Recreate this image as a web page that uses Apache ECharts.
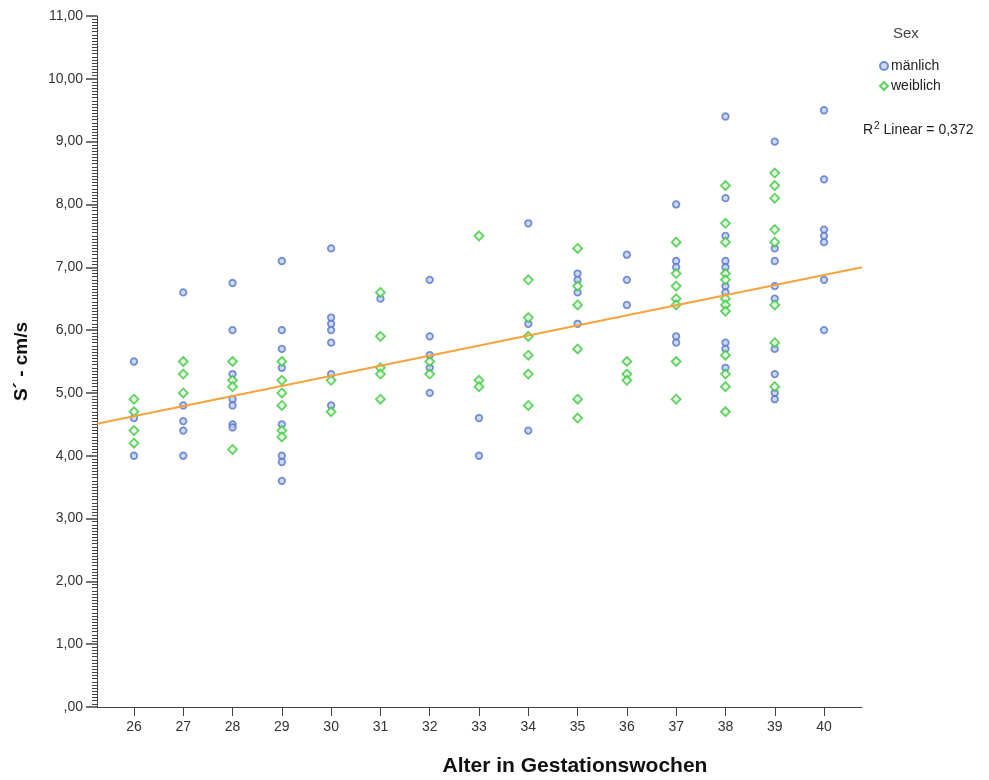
<!DOCTYPE html>
<html>
<head>
<meta charset="utf-8">
<script src="https://cdn.jsdelivr.net/npm/echarts@6/dist/echarts.min.js"></script>
<style>
  html, body { margin: 0; padding: 0; background: #fff; }
  #chart { width: 989px; height: 780px; }
</style>
</head>
<body>
<div id="chart"></div>
<script>
// Gestational age (weeks) on x, S´ velocity (cm/s) on y
const weekTicks = [26, 27, 28, 29, 30, 31, 32, 33, 34, 35, 36, 37, 38, 39, 40];
const yTickValues = [0, 1, 2, 3, 4, 5, 6, 7, 8, 9, 10, 11];
const yTickLabels = [',00', '1,00', '2,00', '3,00', '4,00', '5,00', '6,00', '7,00', '8,00', '9,00', '10,00', '11,00'];

// male measurements [week, S´]
const maleData = [
  [26, 5.5], [26, 4.6], [26, 4.0],
  [27, 6.6], [27, 4.8], [27, 4.55], [27, 4.4], [27, 4.0],
  [28, 6.75], [28, 6.0], [28, 5.3], [28, 4.9], [28, 4.8], [28, 4.5], [28, 4.45],
  [29, 7.1], [29, 6.0], [29, 5.7], [29, 5.4], [29, 4.5], [29, 4.0], [29, 3.9], [29, 3.6],
  [30, 7.3], [30, 6.2], [30, 6.1], [30, 6.0], [30, 5.8], [30, 5.3], [30, 4.8],
  [31, 6.5],
  [32, 6.8], [32, 5.9], [32, 5.6], [32, 5.4], [32, 5.0],
  [33, 4.6], [33, 4.0],
  [34, 7.7], [34, 6.1], [34, 4.4],
  [35, 6.9], [35, 6.8], [35, 6.6], [35, 6.1],
  [36, 7.2], [36, 6.8], [36, 6.4],
  [37, 8.0], [37, 7.1], [37, 7.0], [37, 5.9], [37, 5.8],
  [38, 9.4], [38, 8.1], [38, 7.5], [38, 7.1], [38, 7.0], [38, 6.7], [38, 6.6], [38, 5.8], [38, 5.7], [38, 5.4],
  [39, 9.0], [39, 7.3], [39, 7.1], [39, 6.7], [39, 6.5], [39, 5.7], [39, 5.3], [39, 5.0], [39, 4.9],
  [40, 9.5], [40, 8.4], [40, 7.6], [40, 7.5], [40, 7.4], [40, 6.8], [40, 6.0]
];

// female measurements [week, S´]
const femaleData = [
  [26, 4.9], [26, 4.7], [26, 4.4], [26, 4.2],
  [27, 5.5], [27, 5.3], [27, 5.0],
  [28, 5.5], [28, 5.2], [28, 5.1], [28, 4.1],
  [29, 5.5], [29, 5.2], [29, 5.0], [29, 4.8], [29, 4.4], [29, 4.3],
  [30, 5.2], [30, 4.7],
  [31, 6.6], [31, 5.9], [31, 5.4], [31, 5.3], [31, 4.9],
  [32, 5.5], [32, 5.3],
  [33, 7.5], [33, 5.2], [33, 5.1],
  [34, 6.8], [34, 6.2], [34, 5.9], [34, 5.6], [34, 5.3], [34, 4.8],
  [35, 7.3], [35, 6.7], [35, 6.4], [35, 5.7], [35, 4.9], [35, 4.6],
  [36, 5.5], [36, 5.3], [36, 5.2],
  [37, 7.4], [37, 6.9], [37, 6.7], [37, 6.5], [37, 6.4], [37, 5.5], [37, 4.9],
  [38, 8.3], [38, 7.7], [38, 7.4], [38, 6.9], [38, 6.8], [38, 6.5], [38, 6.4], [38, 6.3], [38, 5.6], [38, 5.3], [38, 5.1], [38, 4.7],
  [39, 8.5], [39, 8.3], [39, 8.1], [39, 7.6], [39, 7.4], [39, 6.4], [39, 5.8], [39, 5.1]
];

// linear fit across the x range
const fitX = [25.25, 40.77];
const fitY = [4.51, 7.0];
const r2Text = '0,372';

const xMin = 25.25, xMax = 40.77;

const labelFont = "'Liberation Sans', Arial, sans-serif";
const chart = echarts.init(document.getElementById('chart'), null, { renderer: 'canvas' });

chart.setOption({
  animation: false,
  backgroundColor: '#ffffff',
  grid: { left: 97, top: 16, right: 127, bottom: 73 },
  xAxis: {
    type: 'value',
    min: xMin,
    max: xMax,
    splitLine: { show: false },
    axisLine: { show: true, onZero: false, lineStyle: { color: '#444', width: 1 } },
    axisTick: { show: true, length: 9, customValues: weekTicks, lineStyle: { color: '#444' } },
    axisLabel: {
      customValues: weekTicks,
      color: '#333',
      fontFamily: "'Liberation Sans Narrow', " + labelFont,
      fontSize: 14,
      margin: 13
    }
  },
  yAxis: {
    type: 'value',
    min: 0,
    max: 11,
    interval: 1,
    splitLine: { show: false },
    axisLine: { show: true, lineStyle: { color: '#444', width: 1 } },
    axisTick: { show: true, length: 11, lineStyle: { color: '#444', width: 1.5 } },
    minorTick: { show: true, splitNumber: 20, length: 5, lineStyle: { color: '#444' } },
    minorSplitLine: { show: false },
    axisLabel: {
      color: '#333',
      fontFamily: labelFont,
      fontSize: 14,
      margin: 14,
      formatter: v => {
        const i = yTickValues.indexOf(Math.round(v));
        return i >= 0 ? yTickLabels[i] : '';
      }
    },
    name: 'S´ - cm/s',
    nameLocation: 'middle',
    nameRotate: 90,
    nameGap: 66,
    nameTextStyle: { color: '#111', fontFamily: labelFont, fontSize: 19, fontWeight: 'bold' }
  },
  legend: {
    orient: 'vertical',
    left: 874,
    top: 54,
    itemWidth: 8,
    itemHeight: 8,
    itemGap: 6,
    textStyle: { color: '#222', fontFamily: labelFont, fontSize: 14, padding: [0, 0, 0, -2] },
    data: ['mänlich', 'weiblich']
  },
  series: [
    {
      name: 'mänlich',
      type: 'scatter',
      symbol: 'circle',
      symbolSize: 6.5,
      data: maleData,
      itemStyle: { color: '#c2cff0', borderColor: '#5676cc', borderWidth: 1.8 },
      z: 3
    },
    {
      name: 'weiblich',
      type: 'scatter',
      symbol: 'diamond',
      symbolSize: 9,
      data: femaleData,
      itemStyle: { color: '#e3f8e3', borderColor: '#3cc83c', borderWidth: 1.8 },
      z: 4
    },
    {
      name: 'fit',
      type: 'line',
      data: fitX.map((x, i) => [x, fitY[i]]),
      showSymbol: false,
      symbol: 'none',
      lineStyle: { color: '#f7a23a', width: 2 },
      z: 5,
      silent: true
    }
  ],
  graphic: [
    {
      type: 'text',
      left: 893,
      top: 26,
      style: { text: 'Sex', fill: '#444', font: "15px 'Liberation Sans', Arial, sans-serif" }
    },
    {
      type: 'text',
      left: 863,
      top: 121,
      style: {
        text: '{a|R}{s|2}{a| Linear = ' + r2Text + '}',
        rich: {
          a: { fill: '#222', fontSize: 14, fontFamily: labelFont, verticalAlign: 'bottom' },
          s: { fill: '#222', fontSize: 10, fontFamily: labelFont, verticalAlign: 'top', padding: [0, 0, 6, 1] }
        }
      }
    },
    {
      type: 'text',
      x: 575,
      y: 766,
      style: {
        text: 'Alter in Gestationswochen',
        fill: '#111',
        font: "bold 21px 'Liberation Sans', Arial, sans-serif",
        align: 'center',
        verticalAlign: 'middle'
      }
    }
  ]
});
</script>
</body>
</html>
